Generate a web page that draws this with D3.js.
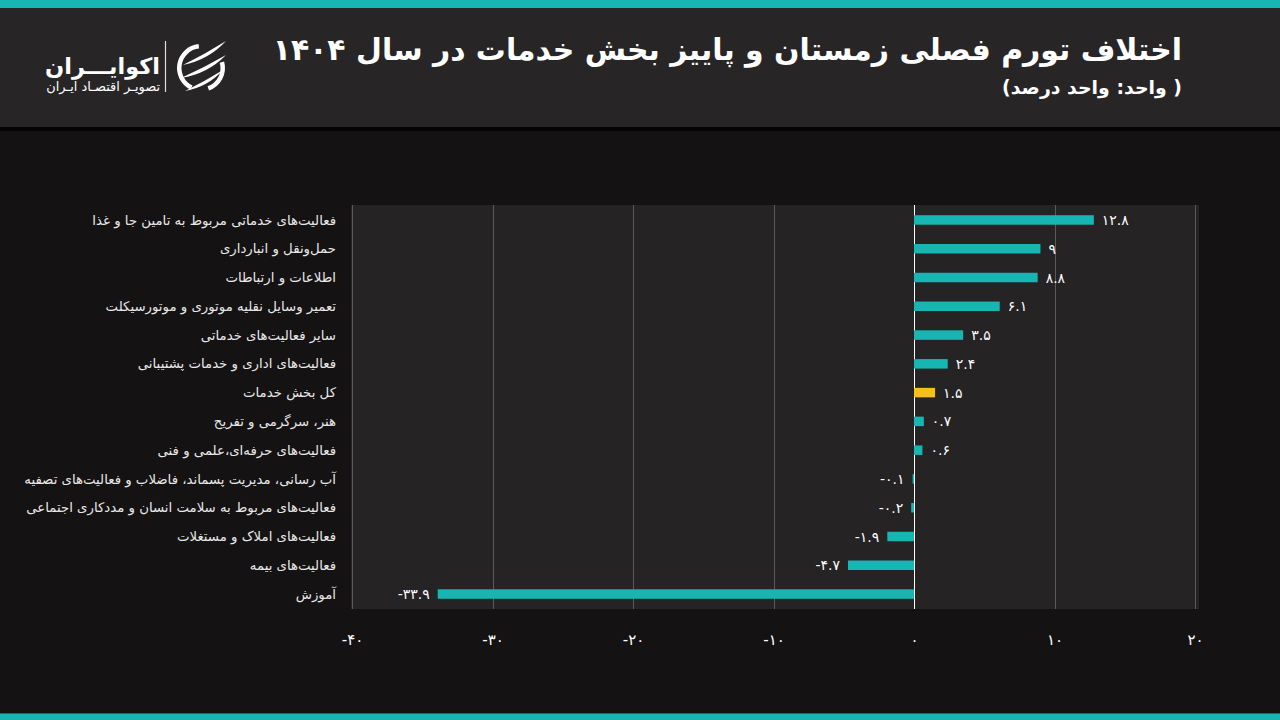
<!DOCTYPE html>
<html><head><meta charset="utf-8">
<script src="https://cdn.jsdelivr.net/npm/d3@7"></script>
<style>html,body{margin:0;padding:0;background:#151213;}svg{display:block;}</style>
</head><body><svg id="c" width="1280" height="720"></svg>
<script>
const categories = [
  "فعالیت‌های خدماتی مربوط به تامین جا و غذا",
  "حمل‌ونقل  و انبارداری",
  "اطلاعات  و ارتباطات",
  "تعمیر وسایل نقلیه موتوری و موتورسیکلت",
  "سایر فعالیت‌های خدماتی",
  "فعالیت‌های اداری و خدمات پشتیبانی",
  "کل بخش خدمات",
  "هنر، سرگرمی  و تفریح",
  "فعالیت‌های حرفه‌ای،علمی  و فنی",
  "آب رسانی، مدیریت پسماند، فاضلاب و فعالیت‌های تصفیه",
  "فعالیت‌های مربوط به سلامت انسان و مددکاری اجتماعی",
  "فعالیت‌های املاک و مستغلات",
  "فعالیت‌های بیمه",
  "آموزش"
];
const values = [12.8, 9, 8.8, 6.1, 3.5, 2.4, 1.5, 0.7, 0.6, -0.1, -0.2, -1.9, -4.7, -33.9];
const highlight = ["کل بخش خدمات"];
const xTicks = [-40, -30, -20, -10, 0, 10, 20];
const titleText = "اختلاف تورم فصلی زمستان و پاییز بخش خدمات در سال ۱۴۰۴";
const subtitleText = "( واحد: واحد درصد)";
const logoText = "اکوایـــران";
const logoSub = "تصویـر اقتصـاد ایـران";

const fa = s => String(s).replace(/\d/g, d => "۰۱۲۳۴۵۶۷۸۹"[+d]);
const data = categories.map((c, i) => ({c, v: values[i]}));

const svg = d3.select("#c");
const TEAL = "#17b6b3", YEL = "#f4c11b";

// background pieces
svg.append("rect").attr("x",0).attr("y",0).attr("width",1280).attr("height",720).attr("fill","#151213");
svg.append("rect").attr("x",0).attr("y",127).attr("width",1280).attr("height",4).attr("fill","#050404");
svg.append("rect").attr("x",0).attr("y",8).attr("width",1280).attr("height",119).attr("fill","#282526");
svg.append("rect").attr("x",0).attr("y",0).attr("width",1280).attr("height",8).attr("fill",TEAL);
svg.append("rect").attr("x",0).attr("y",713).attr("width",1280).attr("height",1).attr("fill","#0d6f6c");
svg.append("rect").attr("x",0).attr("y",714).attr("width",1280).attr("height",6).attr("fill",TEAL);

function fitText(sel, target) {
  const fs = +sel.attr("font-size");
  const w = sel.node().getComputedTextLength();
  sel.attr("font-size", fs * target / w);
}

// title
const title = svg.append("text").attr("x",1182).attr("y",60)
  .attr("direction","rtl").attr("text-anchor","start")
  .attr("font-family","DejaVu Sans").attr("font-weight","bold").attr("font-size",32)
  .attr("fill","#ffffff").text(titleText);
fitText(title, 910);
const sub = svg.append("text").attr("x",1182).attr("y",94)
  .attr("direction","rtl").attr("text-anchor","start")
  .attr("font-family","DejaVu Sans").attr("font-weight","bold").attr("font-size",20)
  .attr("fill","#ffffff").text(subtitleText);
fitText(sub, 180);

// logo
const lg = svg.append("g");
const lt = lg.append("text").attr("x",160).attr("y",74).attr("direction","rtl").attr("text-anchor","start")
  .attr("font-family","DejaVu Sans").attr("font-weight","bold").attr("font-size",30).attr("fill","#fff").text(logoText);
fitText(lt, 115);
const ls = lg.append("text").attr("x",160).attr("y",91).attr("direction","rtl").attr("text-anchor","start")
  .attr("font-family","DejaVu Sans").attr("font-size",12).attr("fill","#fff").text(logoSub);
fitText(ls, 114);
lg.append("line").attr("x1",165.5).attr("x2",165.5).attr("y1",41).attr("y2",92).attr("stroke","#ddd").attr("stroke-width",1.2);

// icon: open ring + three blades
const cx = 201, cy = 68, r = 24;
const arc = d3.arc().innerRadius(r - 4.5).outerRadius(r);
const ic = lg.append("g").attr("transform", `translate(${cx},${cy})`);
ic.append("path").attr("d", arc({startAngle: -0.1, endAngle: -Math.PI + 0.45})).attr("fill", "#fff");
ic.append("path").attr("d", arc({startAngle: 1.3, endAngle: 2.8})).attr("fill", "#fff");
const blades = [
  [[-18, -3], [25, -27], 8],
  [[-20, 10], [25, -13], 8.5],
  [[-16, 23], [22, 2], 7.5]
];
blades.forEach(([a, b, w]) => {
  const mx = (a[0] + b[0]) / 2, my = (a[1] + b[1]) / 2;
  const dx = b[0] - a[0], dy = b[1] - a[1];
  const L = Math.hypot(dx, dy), nx = -dy / L * w, ny = dx / L * w;
  ic.append("path")
    .attr("d", `M${a[0]},${a[1]} Q${mx + nx},${my + ny} ${b[0]},${b[1]} Q${mx + nx * 0.15},${my + ny * 0.15} ${a[0]},${a[1]}Z`)
    .attr("fill", "#fff");
});

// plot
const x = d3.scaleLinear().domain([-40, 20]).range([352, 1195]);
const y = d3.scaleBand().domain(categories).range([205, 609]).paddingInner(0.67).paddingOuter(0.355);

svg.append("rect").attr("x",351).attr("y",205).attr("width",848).attr("height",404).attr("fill","#262324");

svg.append("g").selectAll("line").data(xTicks).join("line")
  .attr("x1", d => Math.round(x(d)) + 0.5).attr("x2", d => Math.round(x(d)) + 0.5)
  .attr("y1", 205).attr("y2", 609)
  .attr("stroke", d => d === 0 ? "#ffffff" : "#5c595a").attr("stroke-width", 1);

svg.append("g").selectAll("rect").data(data).join("rect")
  .attr("x", d => x(Math.min(0, d.v)))
  .attr("y", d => y(d.c))
  .attr("width", d => Math.max(1.5, Math.abs(x(d.v) - x(0))))
  .attr("height", y.bandwidth())
  .attr("fill", d => highlight.includes(d.c) ? YEL : TEAL);

svg.append("g").selectAll("text").data(data).join("text")
  .attr("x", d => d.v >= 0 ? x(d.v) + 8 : x(d.v) - 8)
  .attr("y", d => y(d.c) + y.bandwidth() / 2)
  .attr("dy", "0.36em")
  .attr("text-anchor", d => d.v >= 0 ? "start" : "end")
  .attr("font-family", "DejaVu Sans").attr("font-size", 14).attr("fill", "#ffffff")
  .text(d => fa(d.v));

// category labels
svg.append("g").selectAll("text").data(data).join("text")
  .attr("x", 336)
  .attr("y", d => y(d.c) + y.bandwidth() / 2)
  .attr("dy", "0.35em")
  .attr("direction","rtl").attr("text-anchor","start")
  .attr("font-family", "DejaVu Sans").attr("font-size", 13.3).attr("fill", "#e8e8e8")
  .text(d => d.c);

// x axis
const ax = svg.append("g").attr("transform","translate(0,609)")
  .call(d3.axisBottom(x).tickValues(xTicks).tickSize(0).tickPadding(25).tickFormat(fa));
ax.select(".domain").remove();
ax.selectAll("text").attr("font-family","DejaVu Sans").attr("font-size",15).attr("fill","#ffffff");
</script>
</body></html>
